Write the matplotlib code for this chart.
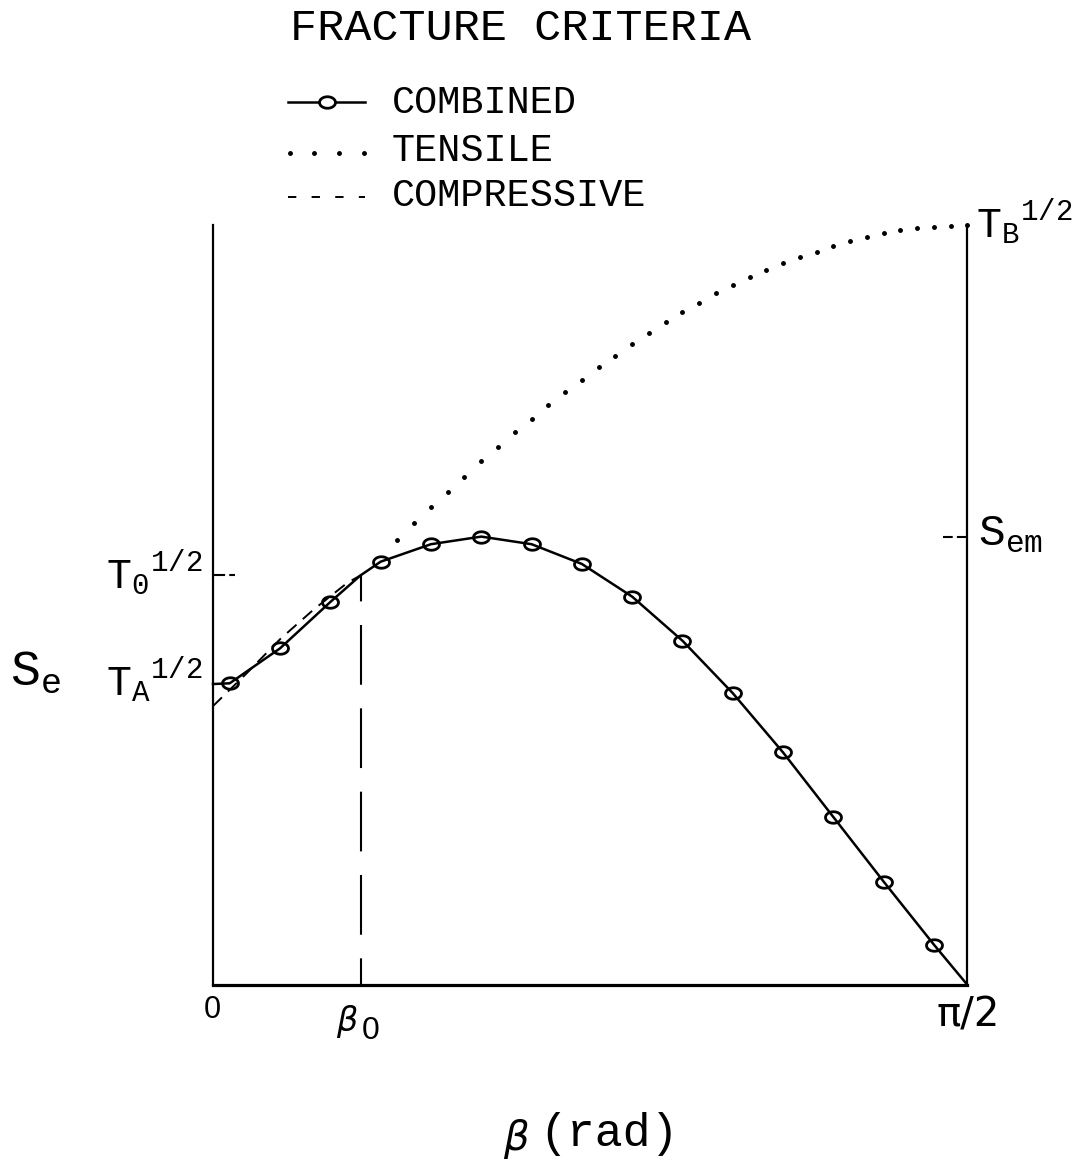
import numpy as np
import matplotlib
matplotlib.use("Agg")
import matplotlib.pyplot as plt
from matplotlib.path import Path
from matplotlib.lines import Line2D

plt.rcParams["lines.scale_dashes"] = False
plt.rcParams["mathtext.fontset"] = "custom"
plt.rcParams["mathtext.rm"] = "Liberation Mono"
plt.rcParams["mathtext.it"] = "Liberation Mono:italic"
plt.rcParams["mathtext.bf"] = "Liberation Mono:bold"

MONO = "Liberation Mono"
SANS = "Liberation Sans"

# ---- data (angle in degrees, normalised equivalent stress S_e) ----
beta0_deg = 17.6

combined_deg = [0, 2, 8, 14, 17.6, 20, 26, 32, 38, 44, 50, 56, 62, 68, 74, 80, 86, 90]
combined_se = [0.396, 0.397, 0.443, 0.504, 0.539, 0.557, 0.580, 0.590, 0.580,
               0.554, 0.511, 0.453, 0.384, 0.306, 0.221, 0.136, 0.053, 0.0]
combined_marker_deg = [2, 8, 14, 20, 26, 32, 38, 44, 50, 56, 62, 68, 74, 80, 86]

tensile_deg = [22, 24, 26, 28, 30, 32, 34, 36, 38, 40, 42, 44, 46, 48, 50, 52, 54,
               56, 58, 60, 62, 64, 66, 68, 70, 72, 74, 76, 78, 80, 82, 84, 86, 88, 90]
tensile_se = [0.586, 0.608, 0.629, 0.649, 0.669, 0.689, 0.708, 0.727, 0.745, 0.763,
              0.780, 0.796, 0.813, 0.828, 0.843, 0.858, 0.872, 0.886, 0.898, 0.910,
              0.921, 0.931, 0.941, 0.950, 0.958, 0.965, 0.973, 0.979, 0.984, 0.989,
              0.993, 0.996, 0.998, 0.999, 1.000]

compressive_deg = [0, 4, 8, 12, 16, 17.6]
compressive_se = [0.367, 0.410, 0.455, 0.494, 0.529, 0.539]

W, H = 1080, 1160
fig = plt.figure(figsize=(W / 100, H / 100), dpi=100)
fig.patch.set_facecolor("white")


def P(x, y):
    """pixel position -> figure fraction"""
    return x / W, 1 - y / H


x0, x1, yb, yt = 213, 967.5, 985, 225
ax = fig.add_axes([x0 / W, 1 - yb / H, (x1 - x0) / W, (yb - yt) / H])
ax.set_xlim(0, np.pi / 2)
ax.set_ylim(0, 1)
ax.spines["top"].set_visible(False)
for s in ("left", "right"):
    ax.spines[s].set_linewidth(1.6)
ax.spines["bottom"].set_linewidth(2.3)
ax.set_xticks([])
ax.set_yticks([])
ax.patch.set_alpha(0)

# ellipse marker with the curve passing through it
t = np.linspace(0, 2 * np.pi, 41)
ellipse = Path(np.column_stack([np.cos(t), 0.72 * np.sin(t)]), closed=True)

cx = np.deg2rad(combined_deg)
mk_idx = [combined_deg.index(d) for d in combined_marker_deg]
ax.plot(cx, combined_se, color="black", lw=1.8, marker=ellipse, markersize=11.5,
        markevery=mk_idx, markerfacecolor="none", markeredgewidth=2.0,
        clip_on=False, zorder=3)

ax.plot(np.deg2rad(tensile_deg), tensile_se, linestyle="none", marker="o",
        markersize=2.5, color="black", clip_on=False)

ax.plot(np.deg2rad(compressive_deg), compressive_se, color="black", lw=1.4,
        linestyle=(0, (9, 6)), clip_on=False)

b0 = np.deg2rad(beta0_deg)
ax.plot([b0, b0], [compressive_se[-1], 0], color="black", lw=1.5,
        linestyle=(24, (43, 17)), clip_on=False)

# level markers on the two vertical axes
t0_level = compressive_se[-1]
ax.plot([0.003, 0.045], [t0_level, t0_level], color="black", lw=1.5,
        linestyle=(0, (8, 3)), clip_on=False)
sem_level = max(combined_se)
ax.plot([np.pi / 2 - 0.05, np.pi / 2], [sem_level, sem_level], color="black",
        lw=1.5, linestyle=(0, (7, 3)), clip_on=False)

# ---- title and legend ----
fig.text(*P(521, 40), "FRACTURE CRITERIA", family=MONO, fontsize=32.5,
         ha="center", va="baseline")

leg_x0, leg_x1, leg_tx = 288, 365, 392
fig.add_artist(Line2D([leg_x0 / W, leg_x1 / W], [1 - 102 / H, 1 - 102 / H],
                      color="black", lw=1.8))
fig.add_artist(Line2D([327 / W], [1 - 102 / H], marker=ellipse, markersize=11.5,
                      markerfacecolor="white", markeredgewidth=2.0, color="black"))
fig.text(*P(leg_tx, 113), "COMBINED", family=MONO, fontsize=27.8, va="baseline")

fig.add_artist(Line2D([x / W for x in (290, 314, 339, 364)], [1 - 153 / H] * 4,
                      linestyle="none", marker="o", markersize=2.5, color="black"))
fig.text(*P(leg_tx, 161), "TENSILE", family=MONO, fontsize=27.8, va="baseline")

fig.add_artist(Line2D([leg_x0 / W, leg_x1 / W], [1 - 197 / H, 1 - 197 / H],
                      color="black", lw=1.4, linestyle=(0, (6, 11))))
fig.text(*P(leg_tx, 206), "COMPRESSIVE", family=MONO, fontsize=27.8, va="baseline")

# ---- axis annotations ----
def level_label(x, y, base, sub, size):
    s = r"$\mathrm{%s}_{\mathrm{%s}}{}^{\mathrm{1/2}}$" % (base, sub)
    fig.text(*P(x, y), s, fontsize=size, ha="left", va="baseline")

level_label(106, 589, "T", "0", 30)
level_label(106, 696, "T", "A", 30)
level_label(976, 238, "T", "B", 30)
fig.text(*P(978, 546), r"$\mathrm{S}_{\mathrm{em}}$", fontsize=32,
         ha="left", va="baseline")
fig.text(*P(10, 686), r"$\mathrm{S}_{\mathrm{e}}$", fontsize=36,
         ha="left", va="baseline")

fig.text(*P(212, 1018), "0", family=SANS, fontsize=22, ha="center", va="baseline")
fig.text(*P(336, 1031), "β", family="DejaVu Sans", style="italic", fontsize=24,
         ha="left", va="baseline")
fig.text(*P(362, 1039), "0", family=SANS, fontsize=23, ha="left", va="baseline")
fig.text(*P(968, 1027), "π/2", family="DejaVu Sans", fontsize=29,
         ha="center", va="baseline")

fig.text(*P(503, 1150), "β", family="DejaVu Sans", style="italic", fontsize=29,
         ha="left", va="baseline")
fig.text(*P(539, 1146), "(rad)", family=MONO, fontsize=33.5, ha="left",
         va="baseline")

fig.savefig("out.png", dpi=100, facecolor="white")
